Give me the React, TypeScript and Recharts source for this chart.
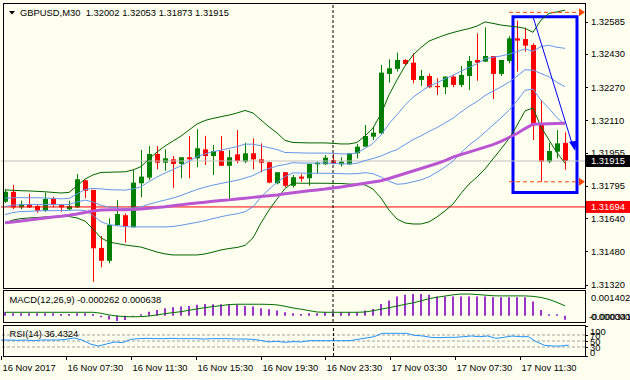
import React from 'react';
import { ComposedChart, Bar, Line, XAxis, YAxis, ReferenceLine, ReferenceArea, ReferenceDot } from 'recharts';

// ---------- data ----------
const TIME_TICK_BARS = [0, 8, 16, 24, 32, 40, 48, 56, 64];
const TIME_LABELS = ['16 Nov 2017', '16 Nov 07:30', '16 Nov 11:30', '16 Nov 15:30', '16 Nov 19:30', '16 Nov 23:30', '17 Nov 03:30', '17 Nov 07:30', '17 Nov 11:30'];
const PRICE_TICKS = [1.32585, 1.3243, 1.3227, 1.3211, 1.31955, 1.31795, 1.3164, 1.3148, 1.3132];

const OPEN = [1.31719, 1.31767, 1.31692, 1.31708, 1.31699, 1.31676, 1.31732, 1.31703, 1.31683, 1.31692, 1.31822, 1.31776, 1.31497, 1.31435, 1.31607, 1.31654, 1.31596, 1.31808, 1.31835, 1.31949, 1.31907, 1.31923, 1.31901, 1.31933, 1.31928, 1.31971, 1.31939, 1.31963, 1.31892, 1.31947, 1.31912, 1.31952, 1.31923, 1.31909, 1.31808, 1.31861, 1.31796, 1.3184, 1.31832, 1.31899, 1.31899, 1.3192, 1.31899, 1.31899, 1.31952, 1.31984, 1.32032, 1.32048, 1.32334, 1.32358, 1.32401, 1.32388, 1.32305, 1.32324, 1.32276, 1.3227, 1.32321, 1.32281, 1.32324, 1.32401, 1.32393, 1.3242, 1.32334, 1.32396, 1.32505, 1.32502, 1.32473, 1.32088, 1.31912, 1.3196, 1.32002];
const HIGH = [1.3178, 1.318, 1.31724, 1.31756, 1.31708, 1.31763, 1.31743, 1.31706, 1.31724, 1.31852, 1.31824, 1.31776, 1.31554, 1.31639, 1.31727, 1.31663, 1.31872, 1.31968, 1.31987, 1.31987, 1.31971, 1.31939, 1.31933, 1.32035, 1.32068, 1.32036, 1.31992, 1.32035, 1.31968, 1.32064, 1.32003, 1.32024, 1.32, 1.31912, 1.31861, 1.31862, 1.31848, 1.31852, 1.31901, 1.31912, 1.31944, 1.31949, 1.31933, 1.31952, 1.31997, 1.32088, 1.3208, 1.32377, 1.32404, 1.32436, 1.32405, 1.32433, 1.32353, 1.32335, 1.32313, 1.32321, 1.32329, 1.32372, 1.3242, 1.32529, 1.32558, 1.3242, 1.32401, 1.32516, 1.3259, 1.32556, 1.32481, 1.32208, 1.32003, 1.32064, 1.32053];
const LOW = [1.31713, 1.31684, 1.31683, 1.31689, 1.31666, 1.31671, 1.31692, 1.31671, 1.31679, 1.31689, 1.31736, 1.31334, 1.31404, 1.31423, 1.31602, 1.31522, 1.31596, 1.3174, 1.31824, 1.31875, 1.31868, 1.31784, 1.31832, 1.31832, 1.31885, 1.31896, 1.31848, 1.31892, 1.31731, 1.31904, 1.31904, 1.31875, 1.3186, 1.31808, 1.31803, 1.31789, 1.31787, 1.31815, 1.31796, 1.31856, 1.31896, 1.31899, 1.31888, 1.31896, 1.31928, 1.31984, 1.32016, 1.32044, 1.32292, 1.32345, 1.32377, 1.32289, 1.32276, 1.32265, 1.32232, 1.32237, 1.3227, 1.3227, 1.32257, 1.32301, 1.32393, 1.32213, 1.32324, 1.32385, 1.32345, 1.32441, 1.32016, 1.31815, 1.31904, 1.31928, 1.31873];
const CLOSE = [1.31767, 1.31692, 1.31708, 1.31692, 1.31676, 1.31732, 1.31703, 1.31692, 1.31699, 1.31827, 1.31772, 1.31495, 1.31435, 1.31607, 1.3166, 1.31602, 1.31811, 1.3184, 1.31949, 1.31907, 1.31928, 1.31901, 1.31933, 1.31923, 1.31976, 1.31939, 1.31963, 1.31892, 1.31933, 1.31915, 1.31952, 1.31923, 1.31907, 1.31811, 1.31861, 1.31796, 1.31837, 1.3183, 1.31901, 1.31907, 1.31931, 1.31904, 1.31912, 1.31952, 1.31984, 1.32035, 1.32051, 1.3234, 1.32361, 1.32401, 1.32382, 1.32305, 1.32324, 1.3227, 1.3227, 1.32321, 1.32281, 1.32329, 1.32396, 1.32388, 1.3242, 1.32334, 1.32401, 1.32505, 1.32494, 1.3247, 1.32088, 1.31912, 1.31963, 1.32, 1.31915];

const BB_UP2 = [1.31776, 1.31774, 1.31772, 1.31771, 1.31769, 1.31767, 1.31764, 1.31761, 1.31764, 1.31795, 1.31828, 1.31848, 1.3186, 1.31861, 1.31862, 1.31863, 1.31872, 1.31888, 1.31925, 1.31958, 1.31987, 1.32011, 1.32035, 1.32064, 1.32093, 1.3211, 1.3212, 1.32128, 1.32136, 1.32146, 1.32158, 1.32146, 1.32112, 1.32079, 1.3205, 1.32014, 1.32004, 1.32003, 1.32002, 1.32002, 1.32002, 1.32, 1.31997, 1.31997, 1.32004, 1.32035, 1.32074, 1.32141, 1.32233, 1.32305, 1.32372, 1.32425, 1.32461, 1.32492, 1.32507, 1.32521, 1.32533, 1.32543, 1.32552, 1.32564, 1.32584, 1.32577, 1.32569, 1.32564, 1.3256, 1.32553, 1.32534, 1.32593, 1.32625, 1.32632, 1.32641];
const BB_UP1 = [1.31736, 1.31738, 1.31739, 1.31738, 1.31738, 1.31737, 1.31735, 1.31733, 1.31735, 1.31756, 1.31778, 1.31783, 1.31781, 1.31777, 1.31776, 1.31775, 1.3178, 1.31791, 1.31816, 1.31838, 1.31857, 1.31874, 1.31892, 1.31914, 1.31936, 1.31949, 1.3196, 1.31967, 1.31976, 1.31984, 1.31996, 1.31996, 1.31988, 1.31979, 1.3197, 1.31956, 1.31955, 1.31954, 1.31953, 1.31953, 1.31953, 1.31952, 1.31949, 1.31949, 1.31954, 1.31976, 1.32, 1.3204, 1.32094, 1.32138, 1.32183, 1.32222, 1.32249, 1.32275, 1.32291, 1.3231, 1.32327, 1.32347, 1.32365, 1.32383, 1.32407, 1.32414, 1.3242, 1.32429, 1.32441, 1.32454, 1.32443, 1.32465, 1.32472, 1.32462, 1.32457];
const BB_MID = [1.31696, 1.31703, 1.31705, 1.31706, 1.31706, 1.31706, 1.31706, 1.31705, 1.31706, 1.31718, 1.31727, 1.31718, 1.31702, 1.31693, 1.3169, 1.31687, 1.31689, 1.31694, 1.31707, 1.31718, 1.31727, 1.31737, 1.31749, 1.31764, 1.31778, 1.31789, 1.31799, 1.31807, 1.31815, 1.31822, 1.31833, 1.31845, 1.31865, 1.31879, 1.31891, 1.31898, 1.31907, 1.31905, 1.31905, 1.31905, 1.31905, 1.31903, 1.31902, 1.31901, 1.31904, 1.31917, 1.31927, 1.31939, 1.31956, 1.3197, 1.31994, 1.32018, 1.32036, 1.32057, 1.32076, 1.32098, 1.32121, 1.32151, 1.32178, 1.32201, 1.3223, 1.32251, 1.32271, 1.32294, 1.32323, 1.32354, 1.32352, 1.32336, 1.3232, 1.32293, 1.32273];
const BB_LO1 = [1.31657, 1.31667, 1.31672, 1.31673, 1.31675, 1.31676, 1.31676, 1.31677, 1.31677, 1.31679, 1.31677, 1.31653, 1.31623, 1.31609, 1.31604, 1.31599, 1.31598, 1.31598, 1.31598, 1.31598, 1.31598, 1.316, 1.31606, 1.31613, 1.3162, 1.31628, 1.31638, 1.31647, 1.31655, 1.31661, 1.31671, 1.31695, 1.31741, 1.31779, 1.31812, 1.3184, 1.31858, 1.31857, 1.31856, 1.31856, 1.31856, 1.31855, 1.31854, 1.31853, 1.31854, 1.31859, 1.31854, 1.31838, 1.31818, 1.31803, 1.31806, 1.31815, 1.31824, 1.31839, 1.31861, 1.31886, 1.31914, 1.31955, 1.31991, 1.3202, 1.32053, 1.32088, 1.32122, 1.32159, 1.32204, 1.32255, 1.32261, 1.32207, 1.32168, 1.32123, 1.32089];
const BB_LO2 = [1.31617, 1.31631, 1.31638, 1.31641, 1.31643, 1.31646, 1.31647, 1.31649, 1.31648, 1.31641, 1.31626, 1.31588, 1.31545, 1.31525, 1.31518, 1.31511, 1.31506, 1.31501, 1.31489, 1.31477, 1.31468, 1.31463, 1.31463, 1.31463, 1.31463, 1.31468, 1.31477, 1.31487, 1.31494, 1.31499, 1.31509, 1.31545, 1.31617, 1.31679, 1.31732, 1.31783, 1.31809, 1.31808, 1.31808, 1.31808, 1.31808, 1.31807, 1.31807, 1.31804, 1.31804, 1.318, 1.3178, 1.31737, 1.31679, 1.31636, 1.31617, 1.31612, 1.31612, 1.31622, 1.31646, 1.31675, 1.31708, 1.31759, 1.31804, 1.31838, 1.31877, 1.31925, 1.31973, 1.32023, 1.32086, 1.32156, 1.3217, 1.32079, 1.32016, 1.31954, 1.31905];
const MA_SLOW = [1.31618, 1.31622, 1.31626, 1.31631, 1.31636, 1.31641, 1.31646, 1.31649, 1.31654, 1.3166, 1.31667, 1.31675, 1.31679, 1.31681, 1.31681, 1.31681, 1.31682, 1.31684, 1.31688, 1.31691, 1.31695, 1.317, 1.31704, 1.31709, 1.31713, 1.31717, 1.31721, 1.31725, 1.31728, 1.31732, 1.31736, 1.3174, 1.31744, 1.31748, 1.31752, 1.31757, 1.31762, 1.31767, 1.31772, 1.31776, 1.3178, 1.31785, 1.3179, 1.31796, 1.31802, 1.31808, 1.31814, 1.3182, 1.31831, 1.31843, 1.31855, 1.31867, 1.31879, 1.31891, 1.31903, 1.31917, 1.31934, 1.31946, 1.31958, 1.3197, 1.31982, 1.31994, 1.32009, 1.32028, 1.32047, 1.32071, 1.32092, 1.32093, 1.32094, 1.32095, 1.32096];

const MACD_MAIN = [0.00022, 0.00016, 0.00016, 0.00016, 0.00016, 0.00016, 0.00016, 0.00011, 0.00011, 0.00016, 0.00016, 0.00011, -0.0001, -0.00024, -0.000341, -0.00028, -0.00005, 0.00009, 0.00026, 0.00037, 0.00048, 0.00055, 0.00059, 0.00063, 0.0007, 0.00076, 0.00074, 0.00074, 0.00074, 0.0007, 0.00063, 0.00059, 0.00048, 0.00042, 0.00033, 0.00022, 0.00016, 0.00011, 0.00016, 0.00016, 0.0002, 0.0002, 0.0002, 0.0002, 0.0002, 0.00033, 0.00044, 0.00076, 0.00098, 0.00124, 0.00135, 0.001402, 0.0014, 0.00135, 0.00124, 0.00124, 0.00124, 0.00124, 0.00124, 0.00124, 0.00124, 0.0012, 0.0012, 0.0012, 0.0012, 0.0012, 0.00091, 0.00037, 0.00009, 0.00009, -0.000262];
const MACD_SIGNAL = [0.00022, 0.00022, 0.00022, 0.00022, 0.00022, 0.00022, 0.00022, 0.00022, 0.00022, 0.00022, 0.00022, 0.00022, 0.00016, 0.00005, -0.00002, -0.00006, -0.00007, -0.00006, -0.00002, 0.00005, 0.00013, 0.0002, 0.00026, 0.00035, 0.00044, 0.00052, 0.00059, 0.00065, 0.00072, 0.00074, 0.00074, 0.00074, 0.00074, 0.00073, 0.0007, 0.00061, 0.0005, 0.00042, 0.00033, 0.00024, 0.00022, 0.00022, 0.00022, 0.00022, 0.00022, 0.00024, 0.00032, 0.00042, 0.00052, 0.00062, 0.00073, 0.00083, 0.00096, 0.0011, 0.00119, 0.00127, 0.00135, 0.0014, 0.0014, 0.00137, 0.00133, 0.00129, 0.00128, 0.00128, 0.00128, 0.00128, 0.00125, 0.00118, 0.00105, 0.00086, 0.000638];
const RSI14 = [53.3, 53.3, 52.2, 53.3, 51.1, 53.3, 53.3, 53.3, 55.6, 60, 53.3, 40, 33.3, 40, 46.7, 44.4, 55.6, 57.8, 58.9, 57.8, 57.8, 58.9, 57.8, 57.8, 57.8, 56.7, 57.8, 57.8, 57.8, 56.7, 56.7, 55.6, 52.2, 46.7, 48.9, 45.6, 47.8, 46.7, 51.1, 51.1, 51.1, 51.1, 51.1, 51.1, 55.6, 60, 64.4, 75.6, 75.6, 75.6, 75.6, 68.9, 66.7, 62.2, 61.1, 62.2, 62.2, 64.4, 66.7, 64.4, 66.7, 58.9, 62.2, 66.7, 64.4, 64.4, 47.8, 35.6, 33.3, 33.3, 36.4];

const LAST_PRICE = 1.31915;
const SUPPORT_PRICE = 1.31694;
const SEPARATOR_BAR = 41;
const BOX = { fromBar: 64, toBar: 71, top: 1.32609, bottom: 1.31763 };
const ARROW = { fromBar: 66, fromPrice: 1.32609, toBar: 71, toPrice: 1.31984 };
const TARGET_HIGH = 1.3263;
const TARGET_LOW = 1.31815;
const DASH_FROM_BAR = 63;
const DASH_TO_BAR = 72;

const N_SLOTS = 73;
const rows = Array.from({ length: N_SLOTS }, (_, i) =>
  i < OPEN.length
    ? {
        i, o: OPEN[i], h: HIGH[i], l: LOW[i], c: CLOSE[i],
        u2: BB_UP2[i], u1: BB_UP1[i], m: BB_MID[i], d1: BB_LO1[i], d2: BB_LO2[i], ma: MA_SLOW[i],
        md: MACD_MAIN[i], sg: MACD_SIGNAL[i], rsi: RSI14[i],
      }
    : { i }
);

// ---------- style ----------
const FONT = '"Liberation Sans", Arial, sans-serif';
const FS = 9.4;
const BG = '#FFFFF0';
const BULL = '#008000';
const BEAR = '#FF0000';
const BAND2 = '#006400';
const BAND1 = '#6495ED';
const MA_COLOR = '#BA55D3';

const Candle = (props: any) => {
  const { x, y, width, height, payload } = props;
  if (!payload || payload.h == null) return null;
  const { o, h, l, c } = payload;
  const top = Math.min(y, y + height);
  const bot = Math.max(y, y + height);
  const k = h - l > 0 ? (bot - top) / (h - l) : 0;
  const py = (v: number) => top + (h - v) * k;
  const cx = Math.round(x + width / 2);
  const col = c >= o ? BULL : BEAR;
  const bt = py(Math.max(o, c));
  const bb = py(Math.min(o, c));
  return (
    <g>
      <line x1={cx + 0.5} x2={cx + 0.5} y1={top} y2={bot} stroke={col} strokeWidth={1} />
      <rect x={cx - 2} y={bt} width={5} height={Math.max(1, bb - bt)} fill={col} />
    </g>
  );
};

const PriceTick = (props: any) => {
  const { y, payload } = props;
  return (
    <g>
      <line x1={585} x2={588} y1={Math.round(y) + 0.5} y2={Math.round(y) + 0.5} stroke="#000" />
      <text x={591} y={y + 3.5} fontSize={FS} fontFamily={FONT} fill="#000">{Number(payload.value).toFixed(5)}</text>
    </g>
  );
};

const PriceBox = (text: string, bg: string) => (props: any) => {
  const vb = props.viewBox || {};
  const yy = vb.y;
  return (
    <g>
      <rect x={586} y={yy - 6} width={44} height={12} fill={bg} />
      <text x={591} y={yy + 3.5} fontSize={FS} fontFamily={FONT} fill="#FFFFFF">{text}</text>
    </g>
  );
};

const Triangle = (dir: 'right' | 'arrow', color: string) => (props: any) => {
  const { cx, cy } = props;
  if (dir === 'right') {
    return <polygon points={`${cx - 2},${cy - 4} ${cx + 4},${cy} ${cx - 2},${cy + 4}`} fill={color} />;
  }
  return <polygon points={`${cx - 4},${cy - 5} ${cx + 4},${cy - 6} ${cx + 2},${cy + 4}`} fill={color} />;
};

const MacdTick = (props: any) => {
  const { payload } = props;
  const v = payload.value;
  if (v > 0) {
    return <text x={591} y={10.7} fontSize={FS} fontFamily={FONT} fill="#000">{v.toFixed(6)}</text>;
  }
  return (
    <g>
      <text x={591} y={30.1} fontSize={FS} fontFamily={FONT} fill="#000">{(0).toFixed(6)}</text>
      <text x={589} y={30.1} fontSize={FS} fontFamily={FONT} fill="#000">{(-0.000341).toFixed(6)}</text>
    </g>
  );
};

const RsiTick = (props: any) => {
  const { y, payload } = props;
  const cy = Math.min(Math.max(y, 6), 27) + 1;
  return (
    <g>
      <line x1={585} x2={588} y1={Math.round(y) + 0.5} y2={Math.round(y) + 0.5} stroke="#000" />
      <text x={590} y={cy + 3.4} fontSize={FS} fontFamily={FONT} fill="#000">{payload.value}</text>
    </g>
  );
};

const TimeTick = (props: any) => {
  const { x, payload } = props;
  const idx = TIME_TICK_BARS.indexOf(payload.value);
  const px = Math.round(x) + 0.5;
  return (
    <g>
      <line x1={px} x2={px} y1={31} y2={35} stroke="#000" />
      <text x={px + 1} y={46} fontSize={FS} fontFamily={FONT} fill="#000">{idx >= 0 ? TIME_LABELS[idx] : ''}</text>
    </g>
  );
};

export default function App() {
  return (
    <div style={{ position: 'absolute', left: 0, top: 0, width: 630, height: 380, background: BG, overflow: 'hidden', fontFamily: FONT }}>
      {/* main price panel */}
      <div style={{ position: 'absolute', left: 0, top: 0 }}>
        <ComposedChart width={630} height={289} data={rows} margin={{ top: 4, right: 0, left: 1, bottom: 1 }} barCategoryGap={0}>
          <XAxis dataKey="i" hide />
          <YAxis orientation="right" type="number" width={45} domain={[1.313041, 1.326702]} allowDataOverflow ticks={PRICE_TICKS} axisLine={false} tickLine={false} tick={<PriceTick />} interval={0} />
          <ReferenceLine y={LAST_PRICE} stroke="#C0C0C0" strokeWidth={1} label={PriceBox('1.31915', '#000000')} />
          <ReferenceLine y={SUPPORT_PRICE} stroke="#FF0000" strokeWidth={1} label={PriceBox('1.31694', '#FF0000')} />
          <ReferenceLine x={SEPARATOR_BAR} stroke="#000" strokeDasharray="3 2" />
          <Bar dataKey={(d: any) => (d.h != null ? [d.l, d.h] : undefined)} barSize={8} shape={<Candle />} isAnimationActive={false} />
          <Line dataKey="u1" stroke={BAND1} strokeWidth={1} dot={false} activeDot={false} isAnimationActive={false} />
          <Line dataKey="m" stroke={BAND1} strokeWidth={1} dot={false} activeDot={false} isAnimationActive={false} />
          <Line dataKey="d1" stroke={BAND1} strokeWidth={1} dot={false} activeDot={false} isAnimationActive={false} />
          <Line dataKey="u2" stroke={BAND2} strokeWidth={1} dot={false} activeDot={false} isAnimationActive={false} />
          <Line dataKey="d2" stroke={BAND2} strokeWidth={1} dot={false} activeDot={false} isAnimationActive={false} />
          <Line dataKey="ma" stroke={MA_COLOR} strokeWidth={3} dot={false} activeDot={false} isAnimationActive={false} />
          <ReferenceArea x1={BOX.fromBar} x2={BOX.toBar} y1={BOX.bottom} y2={BOX.top} fill="none" stroke="#0000FF" strokeWidth={3} ifOverflow="visible" />
          <ReferenceLine segment={[{ x: ARROW.fromBar, y: ARROW.fromPrice }, { x: ARROW.toBar, y: ARROW.toPrice }]} stroke="#0000FF" strokeWidth={1} ifOverflow="visible" />
          <ReferenceDot x={ARROW.toBar} y={ARROW.toPrice} r={0} shape={Triangle('arrow', '#0000FF')} ifOverflow="visible" />
          <ReferenceLine segment={[{ x: DASH_FROM_BAR, y: TARGET_HIGH }, { x: DASH_TO_BAR, y: TARGET_HIGH }]} stroke="#FF4500" strokeDasharray="4 3" ifOverflow="visible" />
          <ReferenceLine segment={[{ x: DASH_FROM_BAR, y: TARGET_LOW }, { x: DASH_TO_BAR, y: TARGET_LOW }]} stroke="#FF4500" strokeDasharray="4 3" ifOverflow="visible" />
          <ReferenceDot x={DASH_TO_BAR} y={TARGET_HIGH} r={0} shape={Triangle('right', '#FF4500')} ifOverflow="visible" />
          <ReferenceDot x={DASH_TO_BAR} y={TARGET_LOW} r={0} shape={Triangle('right', '#FF4500')} ifOverflow="visible" />
        </ComposedChart>
      </div>

      {/* MACD panel */}
      <div style={{ position: 'absolute', left: 0, top: 290 }}>
        <ComposedChart width={630} height={33} data={rows} margin={{ top: 1, right: 0, left: 1, bottom: 1 }} barCategoryGap={0}>
          <XAxis dataKey="i" hide />
          <YAxis orientation="right" type="number" width={45} domain={[-0.000407, 0.001596]} allowDataOverflow ticks={[0.001402, 0]} axisLine={false} tickLine={false} tick={<MacdTick />} interval={0} />
          <ReferenceLine x={SEPARATOR_BAR} stroke="#000" strokeDasharray="3 2" />
          <Bar dataKey="md" barSize={2} fill="#9932CC" isAnimationActive={false} />
          <Line dataKey="sg" stroke="#007000" strokeWidth={1} dot={false} activeDot={false} isAnimationActive={false} />
        </ComposedChart>
      </div>

      {/* RSI panel + time axis */}
      <div style={{ position: 'absolute', left: 0, top: 325 }}>
        <ComposedChart width={630} height={53} data={rows} margin={{ top: 1, right: 0, left: 1, bottom: 0 }}>
          <XAxis dataKey="i" height={22} ticks={TIME_TICK_BARS} interval={0} axisLine={false} tickLine={false} tick={<TimeTick />} />
          <YAxis orientation="right" type="number" width={45} domain={[0, 100]} ticks={[100, 70, 50, 30, 0]} axisLine={false} tickLine={false} tick={<RsiTick />} interval={0} />
          <ReferenceLine y={70} stroke="#A0A0A0" strokeDasharray="3 2" />
          <ReferenceLine y={50} stroke="#A0A0A0" strokeDasharray="3 2" />
          <ReferenceLine y={30} stroke="#A0A0A0" strokeDasharray="3 2" />
          <ReferenceLine x={SEPARATOR_BAR} stroke="#000" strokeDasharray="3 2" />
          <Line dataKey="rsi" stroke="#1E90FF" strokeWidth={1} dot={false} activeDot={false} isAnimationActive={false} />
        </ComposedChart>
      </div>

      {/* frames and panel captions */}
      <svg width={630} height={380} style={{ position: 'absolute', left: 0, top: 0, pointerEvents: 'none' }}>
        <rect x={3.5} y={3.5} width={582} height={285} fill="none" stroke="#000" />
        <rect x={3.5} y={290.5} width={582} height={32} fill="none" stroke="#000" />
        <rect x={3.5} y={325.5} width={582} height={31} fill="none" stroke="#000" />
        <polygon points="9,11 15,11 12,14.5" fill="#000" />
        <text x={20} y={16.1} fontSize={FS} fontFamily={FONT} fill="#000" style={{ whiteSpace: 'pre' }}>{'GBPUSD,M30  1.32002 1.32053 1.31873 1.31915'}</text>
        <text x={9.5} y={302.7} fontSize={FS} fontFamily={FONT} fill="#000">{'MACD(12,26,9) -0.000262 0.000638'}</text>
        <text x={9.5} y={337.4} fontSize={FS} fontFamily={FONT} fill="#000">{'RSI(14) 36.4324'}</text>
      </svg>
    </div>
  );
}
